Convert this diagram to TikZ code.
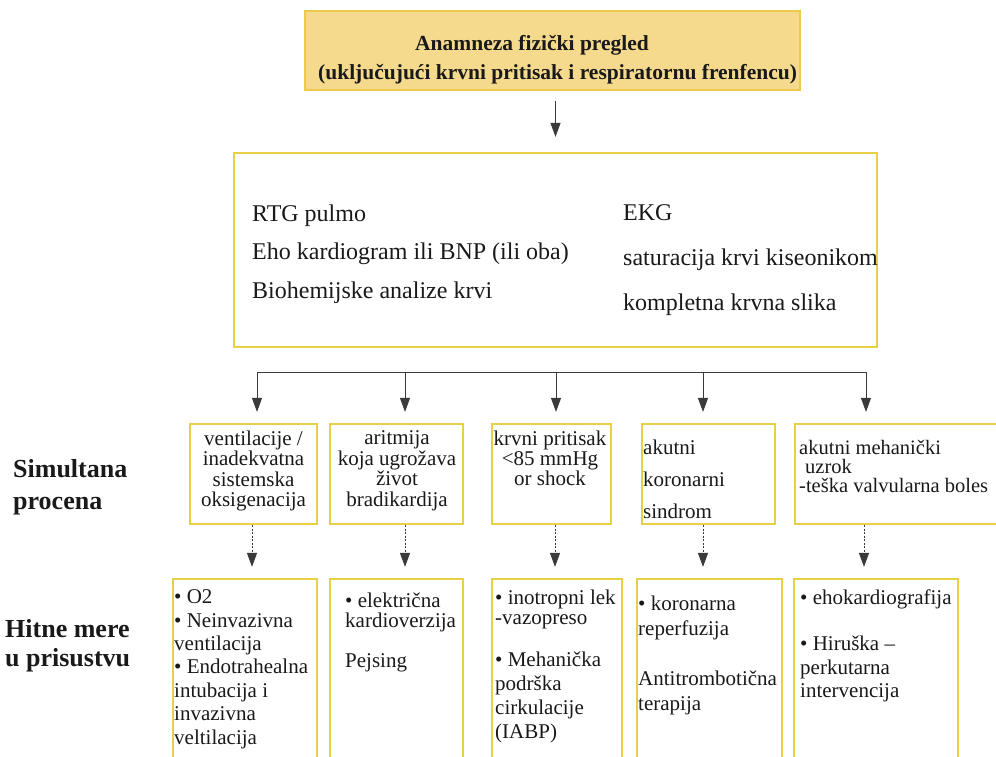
\documentclass[tikz,border=0pt]{standalone}
\usepackage{fontspec}
\setmainfont{Liberation Serif}
\usepackage{tikz}
\usetikzlibrary{arrows.meta}
\definecolor{boxline}{HTML}{E8D046}
\definecolor{topfill}{HTML}{F5DA8E}
\definecolor{topline}{HTML}{EFC94C}
\definecolor{arrowgray}{HTML}{3A3A3A}

\begin{document}
\begin{tikzpicture}[x=1pt,y=-1pt,
	box_node/.style={draw=boxline,line width=2.2pt,inner sep=0pt},
	txt_node/.style={inner sep=0pt,anchor=north west,align=left,text=black!90},
	arr/.style={draw=arrowgray,line width=1pt,-{Triangle[width=10pt,length=14pt]}},
	dot_arr/.style={arr,dash pattern=on 2pt off 1.5pt}]
	\useasboundingbox (0,0) rectangle (996,757);
	\clip (0,0) rectangle (996,757);
	\node[box_node,draw=topline,fill=topfill,minimum width=495,minimum height=79] (top) at (552.5,50.5) {};
	\node[box_node,minimum width=643,minimum height=194] (main) at (555.5,250) {};
	\node[box_node,minimum width=127,minimum height=100] (s1) at (253.5,474) {};
	\node[box_node,minimum width=133,minimum height=100] (s2) at (396.5,474) {};
	\node[box_node,minimum width=119,minimum height=100] (s3) at (551.5,474) {};
	\node[box_node,minimum width=133,minimum height=100] (s4) at (708.5,474) {};
	\node[box_node,minimum width=215,minimum height=100] (s5) at (902.5,474) {};
	\node[box_node,minimum width=144,minimum height=221] (h1) at (245,689.5) {};
	\node[box_node,minimum width=133,minimum height=221] (h2) at (396.5,689.5) {};
	\node[box_node,minimum width=130,minimum height=221] (h3) at (557,689.5) {};
	\node[box_node,minimum width=145,minimum height=221] (h4) at (709.5,689.5) {};
	\node[box_node,minimum width=164,minimum height=221] (h5) at (876,689.5) {};

	\node[txt_node,font=\bfseries\fontsize{21.5}{29}\selectfont] (toptxt) at (318,35.5)
		{\hspace*{97pt}Anamneza fizički pregled\\(uključujući krvni pritisak i respiratornu frenfencu)};
	\node[txt_node,font=\fontsize{24}{38.5}\selectfont] (mainl) at (252,204.6)
		{RTG pulmo\\Eho kardiogram ili BNP (ili oba)\\Biohemijske analize krvi};
	\node[txt_node,font=\fontsize{24}{45}\selectfont] (mainr) at (623,204.6)
		{EKG\\saturacija krvi kiseonikom\\kompletna krvna slika};

	\node[txt_node,font=\bfseries\fontsize{26}{32}\selectfont] (lab1) at (13,459) {Simultana\\procena};
	\node[txt_node,font=\bfseries\fontsize{26}{29}\selectfont] (lab2) at (5,619) {Hitne mere\\u prisustvu};

	\node[txt_node,anchor=north,align=center,font=\fontsize{21}{20.5}\selectfont] (s1t) at (253.5,430.6)
		{ventilacije /\\inadekvatna\\sistemska\\oksigenacija};
	\node[txt_node,anchor=north,align=center,font=\fontsize{21}{20.5}\selectfont] (s2t) at (397,430.6)
		{aritmija\\koja ugrožava\\život\\bradikardija};
	\node[txt_node,anchor=north,align=center,font=\fontsize{21}{20}\selectfont] (s3t) at (550,430.6)
		{krvni pritisak\\<85 mmHg\\or shock};
	\node[txt_node,font=\fontsize{21}{32}\selectfont] (s4t) at (643,439.6)
		{akutni\\koronarni\\sindrom};
	\node[txt_node,font=\fontsize{20.5}{19}\selectfont] (s5t) at (799,439.6)
		{akutni mehanički\\\hspace*{6pt}uzrok\\-teška valvularna boles};

	\node[txt_node,font=\fontsize{21}{23.4}\selectfont] (h1t) at (174,589.6)
		{• O2\\• Neinvazivna\\ventilacija\\• Endotrahealna\\intubacija i\\invazivna\\veltilacija};
	\node[txt_node,font=\fontsize{21}{20}\selectfont] (h2t) at (345,592.6)
		{• električna\\kardioverzija\\[20pt]Pejsing};
	\node[txt_node,font=\fontsize{21}{24}\selectfont] (h3t) at (495,589.6)
		{• inotropni lek\\[-4pt]-vazopreso\\[18pt]• Mehanička\\podrška\\cirkulacije\\(IABP)};
	\node[txt_node,font=\fontsize{21}{25}\selectfont] (h4t) at (638,595.6)
		{• koronarna\\reperfuzija\\[25pt]Antitrombotična\\terapija};
	\node[txt_node,font=\fontsize{21}{23.5}\selectfont] (h5t) at (800,589.6)
		{• ehokardiografija\\[22.5pt]• Hiruška –\\perkutarna\\intervencija};

	\draw[arr,shorten <=10pt,shorten >=15pt] (main.north |- top.south) -- (main.north);
	\coordinate (barl) at (257,372);
	\coordinate (barr) at (866,372);
	\draw[draw=arrowgray,line width=1pt] (barl) -- (barr);
	\foreach \x/\n in {257/s1,405/s2,556/s3,703/s4,866/s5}
		\draw[arr,shorten >=11pt] (\x,0 |- barl) -- (\x,0 |- \n.north);
	\foreach \x/\a/\b in {252/s1/h1,405/s2/h2,555/s3/h3,703/s4/h4,864/s5/h5}
		\draw[dot_arr,shorten >=11pt] (\x,0 |- \a.south) -- (\x,0 |- \b.north);
\end{tikzpicture}
\end{document}
